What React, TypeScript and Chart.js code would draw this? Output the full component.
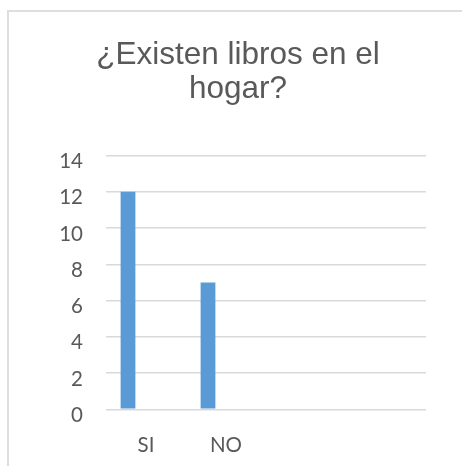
import React, { useEffect, useRef } from "react";
import { Chart, registerables } from "chart.js";

Chart.register(...registerables);

const titleLines = ["¿Existen libros en el", "hogar?"];
const categories = ["SI", "NO", "", ""];
const seriesValues: (number | null)[] = [12, 7, null, null];
const emptySeries: (number | null)[] = [null, null, null, null];
const yMin = 0;
const yMax = 14;
const yStep = 2;

export default function App() {
  const canvasRef = useRef<HTMLCanvasElement | null>(null);

  useEffect(() => {
    if (!canvasRef.current) return;
    const chart = new Chart(canvasRef.current, {
      type: "bar",
      data: {
        labels: categories,
        datasets: [
          {
            label: "Serie 1",
            data: seriesValues,
            backgroundColor: "#5b9bd5",
            borderWidth: 0,
            categoryPercentage: 0.9,
            barPercentage: 0.41,
          },
          {
            label: "Serie 2",
            data: emptySeries,
            backgroundColor: "#ed7d31",
            borderWidth: 0,
            categoryPercentage: 0.9,
            barPercentage: 0.41,
          },
        ],
      },
      options: {
        animation: false,
        responsive: false,
        maintainAspectRatio: false,
        layout: { padding: { left: 50, right: 36, top: 0, bottom: 8.5 } },
        plugins: {
          legend: { display: false },
          tooltip: { enabled: false },
          title: {
            display: true,
            text: titleLines,
            color: "#595959",
            font: { family: "'Liberation Sans', Arial, sans-serif", size: 31.5, weight: "normal", lineHeight: 34 / 31.5 },
            padding: { top: 38.3, bottom: 49.2 },
          },
        },
        scales: {
          x: {
            grid: { display: false, drawTicks: false },
            border: { display: false },
            ticks: {
              color: "#595959",
              font: { family: "Lato, 'Open Sans', sans-serif", size: 20.5 },
              padding: 24,
              maxRotation: 0,
              autoSkip: false,
            },
            afterFit: (scale: any) => {
              scale.height = 48.2;
            },
          },
          y: {
            min: yMin,
            max: yMax,
            grid: { color: "#d9d9d9", lineWidth: 1.5, drawTicks: false },
            border: { display: false },
            ticks: {
              stepSize: yStep,
              color: "#595959",
              font: { family: "Lato, 'Open Sans', sans-serif", size: 20.5 },
              padding: 23,
              labelOffset: 6,
            },
            afterFit: (scale: any) => {
              scale.width = 56;
            },
          },
        },
      },
    });
    return () => chart.destroy();
  }, []);

  return (
    <div style={{ position: "fixed", left: 0, top: 0, width: 462, height: 466, overflow: "hidden", background: "#fff" }}>
      <div
        style={{
          position: "absolute",
          left: 7,
          top: 10,
          width: 600,
          height: 600,
          borderTop: "2px solid #dedede",
          borderLeft: "2px solid #dedede",
        }}
      />
      <canvas ref={canvasRef} width={462} height={466} style={{ position: "absolute", left: 0, top: 0, width: 462, height: 466 }} />
    </div>
  );
}
